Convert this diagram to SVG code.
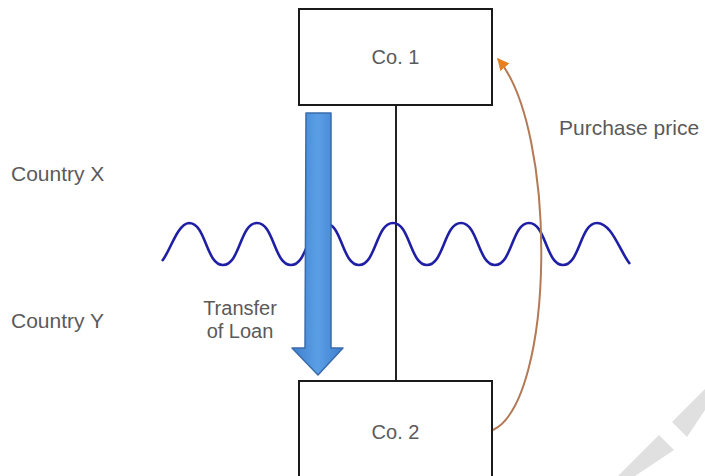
<svg xmlns="http://www.w3.org/2000/svg" width="705" height="476" viewBox="0 0 705 476">
<style>
.box{fill:#fff;stroke:#1a1a1a;stroke-width:2}
.lbl{font-family:"Liberation Sans",Arial,sans-serif;fill:#5a5a5a;font-size:21px}
.node{font-family:"Liberation Sans",Arial,sans-serif;fill:#5a5a5a;font-size:20px;text-anchor:middle}
</style>
<defs>
<linearGradient id="blueGrad" x1="0" y1="0" x2="1" y2="0">
<stop offset="0" stop-color="#3f7fcc"/>
<stop offset="0.5" stop-color="#5a9fe6"/>
<stop offset="1" stop-color="#3f7fcc"/>
</linearGradient>
<marker id="orangeHead" viewBox="0 0 10 10" refX="9" refY="5" markerWidth="6" markerHeight="6" orient="auto" markerUnits="strokeWidth">
<path d="M0,0 L10,5 L0,10 z" fill="#e8801f"/>
</marker>
</defs>
<rect width="705" height="476" fill="#fff"/>
<g id="watermark" fill="#e0e0e0">
<polygon points="705,389 705,410 687,437 672,422"/>
<polygon points="659,435 674,450 635,476 618,476"/>
</g>
<g id="labels">
<text class="lbl" x="11" y="181">Country X</text>
<text class="lbl" x="11" y="328">Country Y</text>
</g>
<g id="connectors">
<line x1="396" y1="105" x2="396" y2="381" stroke="#222" stroke-width="2"/>
<path id="wave" d="M162,261 C170,252 177,224 189,223 C206,223 206,265 223,265 C240,265 240,223 257,223 C274,223 274,265 291,265 C308,265 308,223 325,223 C342,223 342,265 359,265 C376,265 376,223 393,223 C410,223 410,265 427,265 C444,265 444,223 461,223 C478,223 478,265 495,265 C512,265 512,223 529,223 C546,223 546,265 563,265 C580,265 580,223 597,223 C612,223 620,252 630,264" fill="none" stroke="#1f1fa6" stroke-width="2.6"/>
<path id="transfer" d="M306,113 L331,113 L331,348 L343,348 L318,375 L292,348 L305,348 Z" fill="url(#blueGrad)" stroke="#3a6cab" stroke-width="1.5" stroke-linejoin="round"/>
<path id="purchase" d="M493,430 C555,400 558,130 498,59" fill="none" stroke="#b37a55" stroke-width="2" marker-end="url(#orangeHead)"/>
<text class="lbl" x="559" y="135">Purchase price</text>
<text class="node" x="240" y="315">Transfer</text>
<text class="node" x="240" y="338">of Loan</text>
</g>
<g id="co1">
<rect class="box" x="299" y="9" width="193" height="96"/>
<text class="node" x="395.5" y="64">Co. 1</text>
</g>
<g id="co2">
<rect class="box" x="299" y="381" width="193" height="110"/>
<text class="node" x="395.5" y="439">Co. 2</text>
</g>
</svg>
